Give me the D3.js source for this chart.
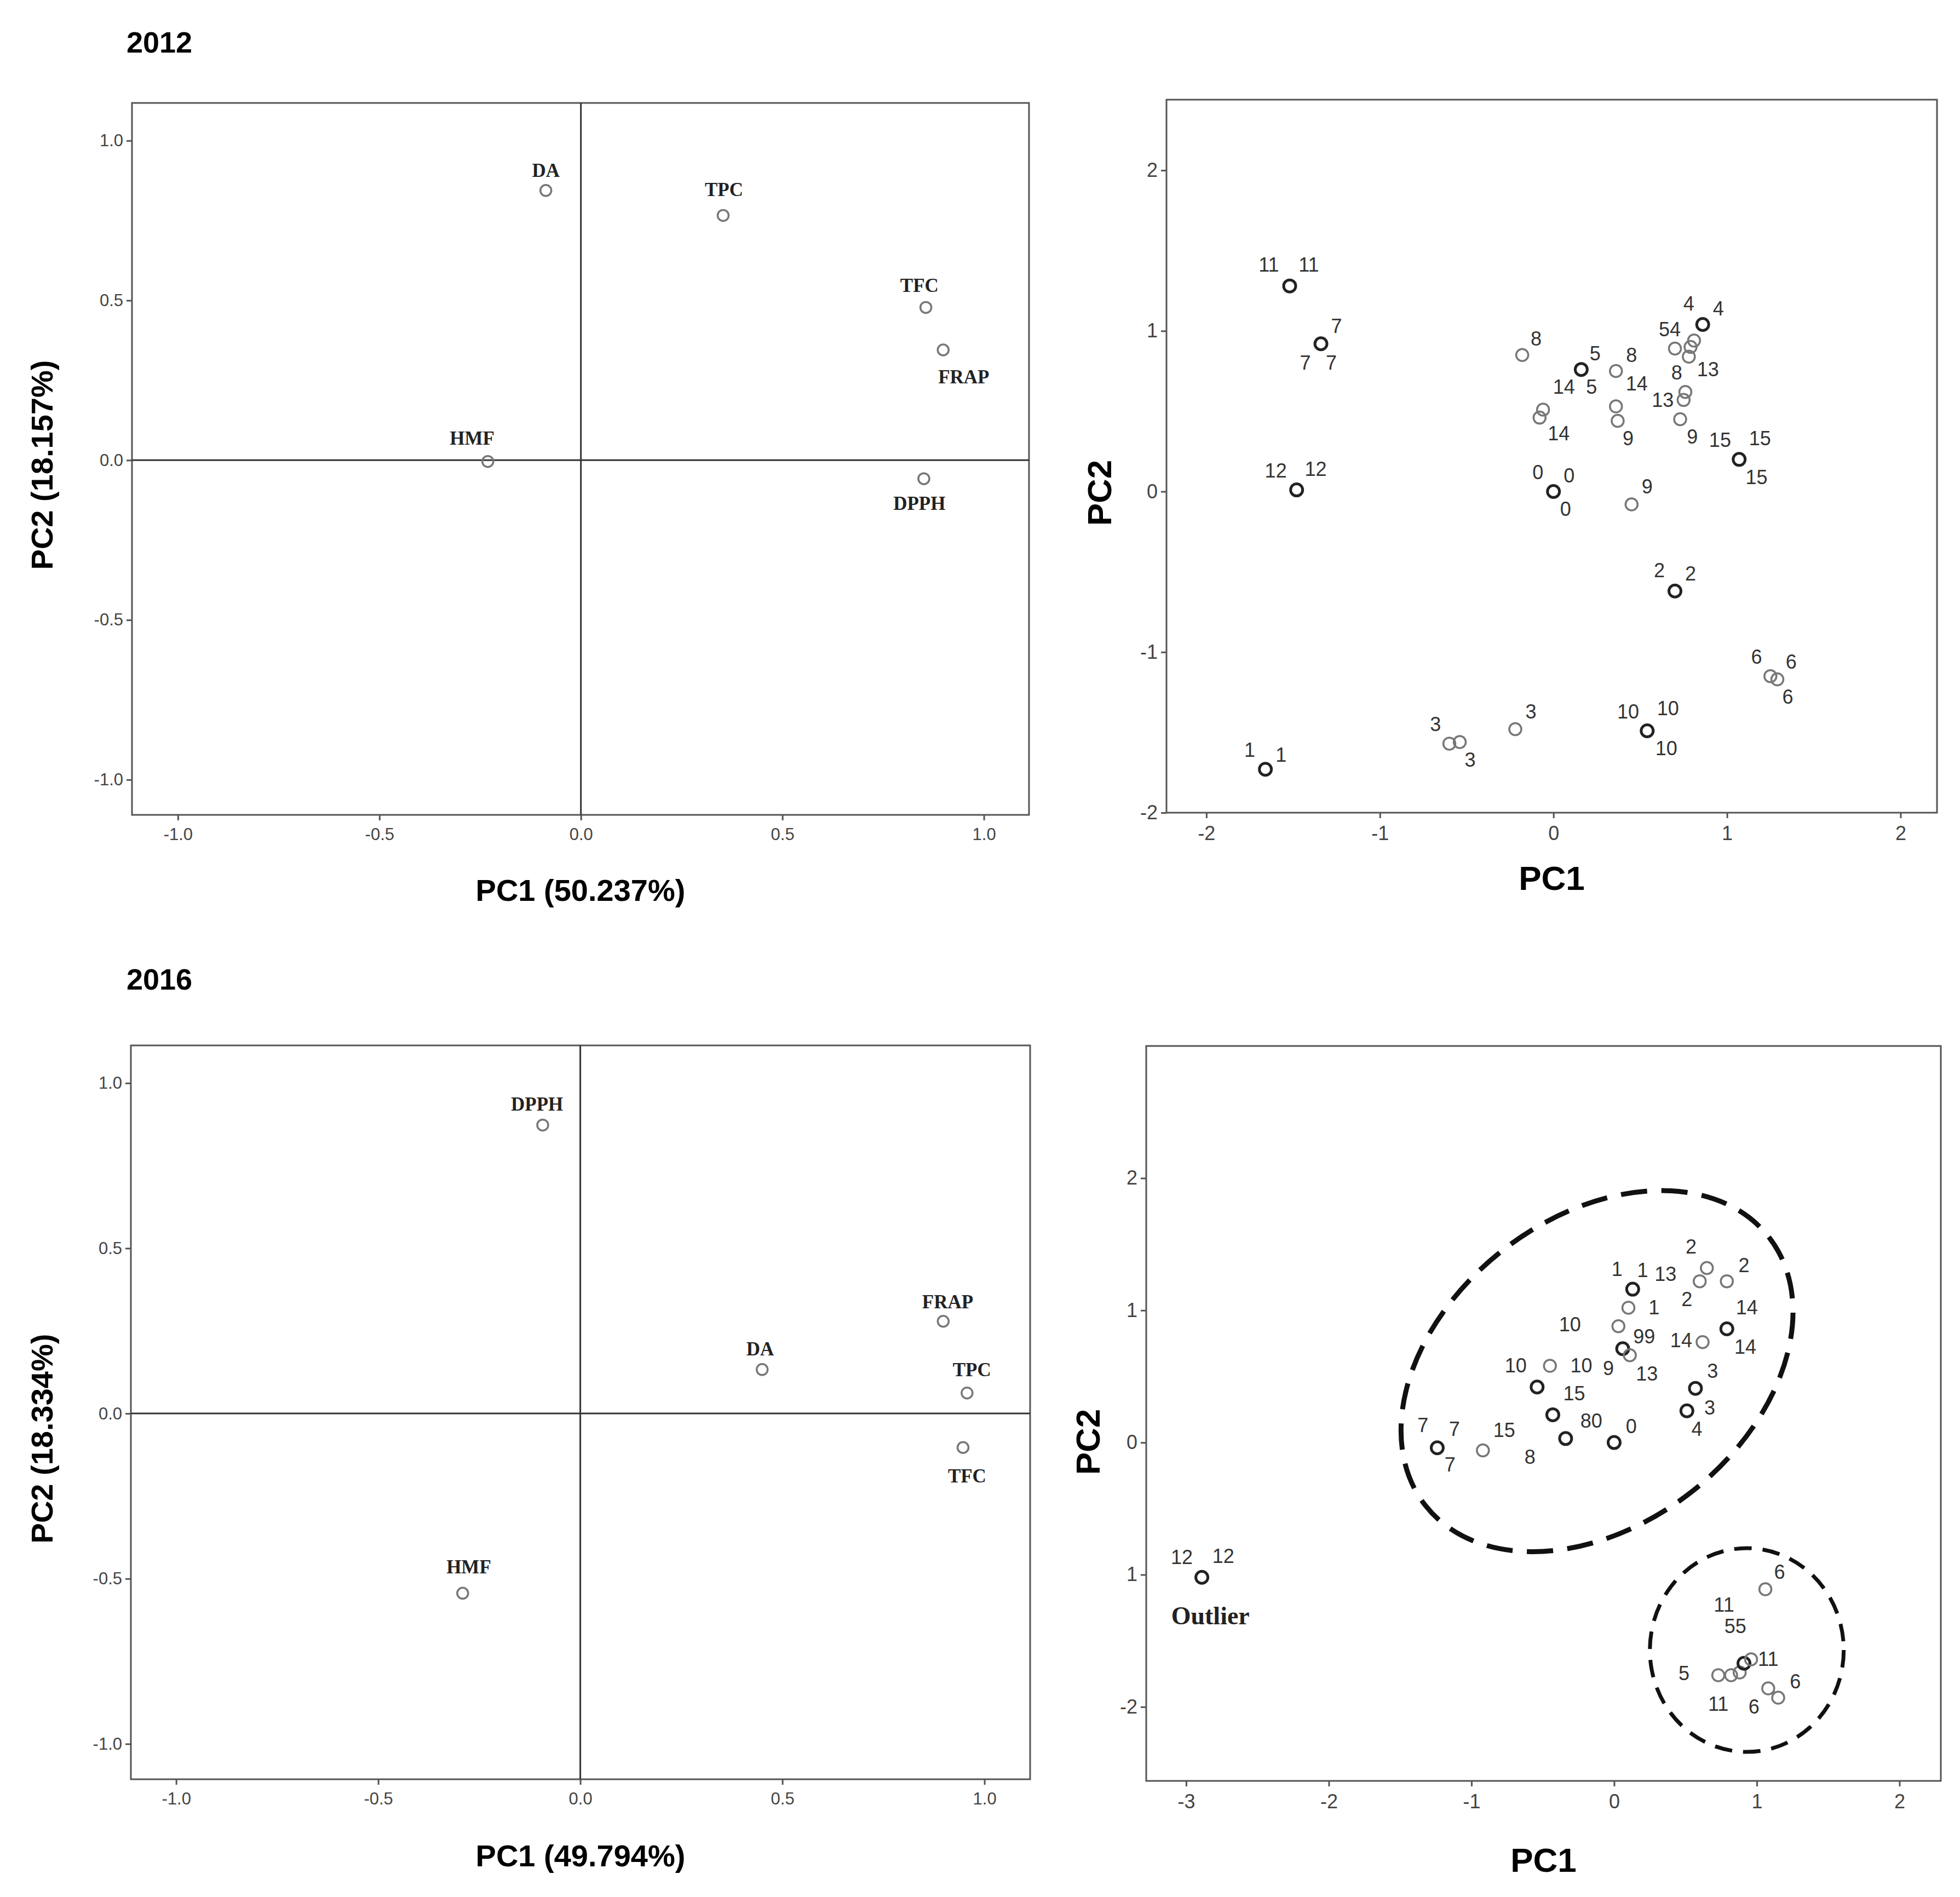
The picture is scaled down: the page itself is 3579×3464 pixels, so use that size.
<!DOCTYPE html>
<html>
<head>
<meta charset="utf-8">
<script src="https://cdn.jsdelivr.net/npm/d3@7"></script>
<style>
  body { margin: 0; background: #fff; font-family: "Liberation Sans", Arial, sans-serif; }
</style>
</head>
<body>
<div id="chart"></div>
<script>
// ---- data ----
var loadingTicks = [-1.0, -0.5, 0.0, 0.5, 1.0];

// 2012 loadings: [name, PC1, PC2, labelPC1, labelPC2]
var load2012 = [
  ["DA", -0.087, 0.844, -0.087, 0.90],
  ["TPC", 0.353, 0.766, 0.355, 0.84],
  ["TFC", 0.856, 0.478, 0.84, 0.54],
  ["FRAP", 0.899, 0.345, 0.95, 0.254],
  ["HMF", -0.231, -0.004, -0.27, 0.062],
  ["DPPH", 0.851, -0.058, 0.84, -0.142]
];
var load2016 = [
  ["DPPH", -0.093, 0.873, -0.107, 0.93],
  ["FRAP", 0.898, 0.279, 0.909, 0.332],
  ["DA", 0.450, 0.133, 0.445, 0.189],
  ["TPC", 0.957, 0.062, 0.969, 0.126],
  ["TFC", 0.947, -0.103, 0.957, -0.195],
  ["HMF", -0.291, -0.544, -0.276, -0.470]
];

// score points: [PC1, PC2, dark?]
var score2012 = [
  [-1.52, 1.28, 1], [-1.34, 0.92, 1], [-0.18, 0.85, 0], [0.16, 0.76, 1], [0.36, 0.75, 0],
  [0.70, 0.89, 0], [0.79, 0.90, 0], [0.81, 0.94, 0], [0.86, 1.04, 1], [0.78, 0.84, 0],
  [-0.06, 0.51, 0], [-0.08, 0.46, 0], [0.36, 0.53, 0], [0.37, 0.44, 0], [0.76, 0.62, 0],
  [0.75, 0.57, 0], [0.73, 0.45, 0], [1.07, 0.20, 1], [-1.48, 0.01, 1], [0.00, 0.00, 1],
  [0.45, -0.08, 0], [0.70, -0.62, 1], [1.25, -1.15, 0], [1.29, -1.17, 0], [0.54, -1.49, 1],
  [-0.60, -1.57, 0], [-0.54, -1.56, 0], [-0.22, -1.48, 0], [-1.66, -1.73, 1]
];
// score labels: [text, PC1, PC2]
var label2012 = [
  ["11", -1.64, 1.40], ["11", -1.41, 1.40], ["7", -1.25, 1.02], ["7", -1.43, 0.79], ["7", -1.28, 0.79],
  ["8", -0.10, 0.94], ["5", 0.24, 0.85], ["8", 0.45, 0.84], ["54", 0.67, 1.00], ["4", 0.78, 1.16],
  ["4", 0.95, 1.13], ["8", 0.71, 0.73], ["13", 0.89, 0.75], ["14", 0.06, 0.64], ["5", 0.22, 0.64],
  ["14", 0.48, 0.66], ["13", 0.63, 0.56], ["14", 0.03, 0.35], ["9", 0.43, 0.32], ["9", 0.80, 0.33],
  ["15", 0.96, 0.31], ["15", 1.19, 0.32], ["12", -1.60, 0.12], ["12", -1.37, 0.13], ["0", -0.09, 0.11],
  ["0", 0.09, 0.09], ["0", 0.07, -0.12], ["9", 0.54, 0.02], ["15", 1.17, 0.08], ["2", 0.61, -0.50],
  ["2", 0.79, -0.52], ["6", 1.17, -1.04], ["6", 1.37, -1.07], ["6", 1.35, -1.29], ["10", 0.43, -1.38],
  ["10", 0.66, -1.36], ["10", 0.65, -1.61], ["3", -0.68, -1.46], ["3", -0.48, -1.68], ["3", -0.13, -1.38],
  ["1", -1.75, -1.62], ["1", -1.57, -1.65]
];
var score2016 = [
  [0.13, 1.16, 1], [0.10, 1.02, 0], [0.65, 1.32, 0], [0.60, 1.22, 0], [0.79, 1.22, 0],
  [0.03, 0.88, 0], [0.06, 0.71, 1], [0.11, 0.66, 0], [0.62, 0.76, 0], [0.79, 0.86, 1],
  [-0.45, 0.58, 0], [-0.54, 0.42, 1], [-0.43, 0.21, 1], [-0.34, 0.03, 1], [0.00, 0.00, 1],
  [0.57, 0.41, 1], [0.51, 0.24, 1], [-1.24, -0.04, 1], [-0.92, -0.06, 0], [-2.89, -1.02, 1],
  [1.06, -1.11, 0], [0.73, -1.76, 0], [0.82, -1.76, 0], [0.88, -1.74, 0], [0.91, -1.67, 1],
  [0.96, -1.64, 0], [1.08, -1.86, 0], [1.15, -1.93, 0]
];
var label2016 = [
  ["2", 0.54, 1.47], ["2", 0.91, 1.33], ["1", 0.02, 1.30], ["1", 0.20, 1.29], ["13", 0.36, 1.26],
  ["2", 0.51, 1.07], ["1", 0.28, 1.01], ["14", 0.93, 1.01], ["10", -0.31, 0.88], ["99", 0.21, 0.79],
  ["14", 0.47, 0.76], ["14", 0.92, 0.71], ["10", -0.69, 0.57], ["10", -0.23, 0.57], ["9", -0.04, 0.55],
  ["13", 0.23, 0.51], ["3", 0.69, 0.53], ["15", -0.28, 0.36], ["3", 0.67, 0.25], ["7", -1.34, 0.12],
  ["7", -1.12, 0.09], ["15", -0.77, 0.08], ["80", -0.16, 0.15], ["0", 0.12, 0.11], ["4", 0.58, 0.09],
  ["7", -1.15, -0.18], ["8", -0.59, -0.12], ["12", -3.03, -0.88], ["12", -2.74, -0.87], ["6", 1.16, -0.99],
  ["11", 0.77, -1.24], ["55", 0.85, -1.40], ["5", 0.49, -1.76], ["11", 1.08, -1.65], ["6", 1.27, -1.82],
  ["11", 0.73, -1.99], ["6", 0.98, -2.01]
];
var score2012XTicks = [-2, -1, 0, 1, 2];
var score2012YTicks = [-2, -1, 0, 1, 2];
var score2016XTicks = [-3, -2, -1, 0, 1, 2];
var score2016YTicks = [-2, -1, 0, 1, 2];
var score2016YTickLabels = ["-2", "1", "0", "1", "2"];

// ---- drawing ----
var serif = "'Liberation Serif', 'Times New Roman', serif";
var sans = "'Liberation Sans', Arial, sans-serif";
var svg = d3.select("#chart").append("svg").attr("width", 3579).attr("height", 3464)
  .style("font-family", sans);

// hyphen minus like the original software
function hy(f) { return function(d) { return f(d).replace("\u2212", "-"); }; }

function panel(o) {
  var x = d3.scaleLinear().domain(o.xd).range([o.x0, o.x1]);
  var y = d3.scaleLinear().domain(o.yd).range([o.y1, o.y0]);
  var g = svg.append("g");
  g.append("rect").attr("x", o.x0).attr("y", o.y0).attr("width", o.x1 - o.x0).attr("height", o.y1 - o.y0)
    .attr("fill", "none").attr("stroke", "#555").attr("stroke-width", 3);
  var ax = g.append("g").attr("transform", "translate(0," + o.y1 + ")")
    .call(d3.axisBottom(x).tickValues(o.xt).tickSize(10).tickSizeOuter(0).tickPadding(14).tickFormat(hy(o.fmt)));
  var ay = g.append("g").attr("transform", "translate(" + o.x0 + ",0)")
    .call(d3.axisLeft(y).tickValues(o.yt).tickSize(10).tickSizeOuter(0).tickPadding(6)
      .tickFormat(o.yl ? function(d, i) { return o.yl[i]; } : hy(o.fmt)));
  [ax, ay].forEach(function(a) {
    a.select(".domain").remove();
    a.selectAll("line").attr("stroke", "#555").attr("stroke-width", 3);
    a.selectAll("text").attr("font-size", o.tfs).attr("fill", "#444").style("font-family", sans);
  });
  g.append("text").attr("x", (o.x0 + o.x1) / 2).attr("y", o.xly).attr("text-anchor", "middle")
    .attr("dominant-baseline", "middle").attr("font-weight", "bold").attr("font-size", o.afs).text(o.xlab);
  g.append("text").attr("transform", "translate(" + o.ylx + "," + o.yly + ") rotate(-90)")
    .attr("text-anchor", "middle").attr("dominant-baseline", "middle")
    .attr("font-weight", "bold").attr("font-size", o.afs).text(o.ylab);
  return {g: g, x: x, y: y};
}

function loadingPlot(o, data) {
  var p = panel(o);
  p.g.append("line").attr("x1", p.x(0)).attr("x2", p.x(0)).attr("y1", o.y0).attr("y2", o.y1)
    .attr("stroke", "#333").attr("stroke-width", 3);
  p.g.append("line").attr("x1", o.x0).attr("x2", o.x1).attr("y1", p.y(0)).attr("y2", p.y(0))
    .attr("stroke", "#333").attr("stroke-width", 3);
  p.g.selectAll("circle.pt").data(data).enter().append("circle")
    .attr("cx", function(d) { return p.x(d[1]); }).attr("cy", function(d) { return p.y(d[2]); })
    .attr("r", 10).attr("fill", "none").attr("stroke", "#777").attr("stroke-width", 3.5);
  p.g.selectAll("text.lb").data(data).enter().append("text")
    .attr("x", function(d) { return p.x(d[3]); }).attr("y", function(d) { return p.y(d[4]); })
    .attr("text-anchor", "middle").attr("dominant-baseline", "middle")
    .style("font-family", serif)
    .attr("font-weight", "bold").attr("font-size", 35).attr("fill", "#222")
    .text(function(d) { return d[0]; });
}

function scorePlot(o, pts, labels) {
  var p = panel(o);
  p.g.selectAll("circle.pt").data(pts).enter().append("circle")
    .attr("cx", function(d) { return p.x(d[0]); }).attr("cy", function(d) { return p.y(d[1]); })
    .attr("r", 11).attr("fill", "none")
    .attr("stroke", function(d) { return d[2] ? "#222" : "#777"; })
    .attr("stroke-width", function(d) { return d[2] ? 5 : 3.5; });
  p.g.selectAll("text.lb").data(labels).enter().append("text")
    .attr("x", function(d) { return p.x(d[1]); }).attr("y", function(d) { return p.y(d[2]); })
    .attr("text-anchor", "middle").attr("dominant-baseline", "middle")
    .attr("font-size", 36).attr("fill", "#333")
    .text(function(d) { return d[0]; });
  return p;
}

var f1 = d3.format(".1f");

svg.append("text").attr("x", 231).attr("y", 82).attr("dominant-baseline", "middle")
  .attr("font-weight", "bold").attr("font-size", 54).text("2012");
svg.append("text").attr("x", 231).attr("y", 1793).attr("dominant-baseline", "middle")
  .attr("font-weight", "bold").attr("font-size", 54).text("2016");

loadingPlot({x0: 241, x1: 1879, y0: 188, y1: 1488, xd: [-1.114, 1.112], yd: [-1.11, 1.118],
  xt: loadingTicks, yt: loadingTicks, fmt: f1, tfs: 31, afs: 56,
  xlab: "PC1 (50.237%)", xly: 1630, ylab: "PC2 (18.157%)", ylx: 81, yly: 849}, load2012);

loadingPlot({x0: 239, x1: 1881, y0: 1909, y1: 3249, xd: [-1.112, 1.113], yd: [-1.107, 1.114],
  xt: loadingTicks, yt: loadingTicks, fmt: f1, tfs: 31, afs: 56,
  xlab: "PC1 (49.794%)", xly: 3393, ylab: "PC2 (18.334%)", ylx: 81, yly: 2627}, load2016);

scorePlot({x0: 2130, x1: 3537, y0: 182, y1: 1484, xd: [-2.23, 2.21], yd: [-2, 2.44],
  xt: score2012XTicks, yt: score2012YTicks, fmt: d3.format("d"), tfs: 36, afs: 62,
  xlab: "PC1", xly: 1609, ylab: "PC2", ylx: 2013, yly: 900}, score2012, label2012);

var p4 = scorePlot({x0: 2093, x1: 3544, y0: 1910, y1: 3252, xd: [-3.28, 2.29], yd: [-2.56, 3.0],
  xt: score2016XTicks, yt: score2016YTicks, yl: score2016YTickLabels, fmt: d3.format("d"), tfs: 36, afs: 62,
  xlab: "PC1", xly: 3402, ylab: "PC2", ylx: 1992, yly: 2633}, score2016, label2016);

// outlier note and group ellipses
p4.g.append("text").attr("x", p4.x(-2.83)).attr("y", p4.y(-1.33))
  .attr("text-anchor", "middle").attr("dominant-baseline", "middle")
  .style("font-family", serif)
  .attr("font-weight", "bold").attr("font-size", 46).attr("fill", "#222").text("Outlier");
p4.g.append("ellipse").attr("cx", p4.x(-0.12)).attr("cy", p4.y(0.54))
  .attr("rx", 398).attr("ry", 280)
  .attr("transform", "rotate(-38," + p4.x(-0.12) + "," + p4.y(0.54) + ")")
  .attr("fill", "none").attr("stroke", "#111").attr("stroke-width", 9).attr("stroke-dasharray", "48,26");
p4.g.append("ellipse").attr("cx", p4.x(0.93)).attr("cy", p4.y(-1.57))
  .attr("rx", 177).attr("ry", 186)
  .attr("fill", "none").attr("stroke", "#111").attr("stroke-width", 7).attr("stroke-dasharray", "32,20");
</script>
</body>
</html>
